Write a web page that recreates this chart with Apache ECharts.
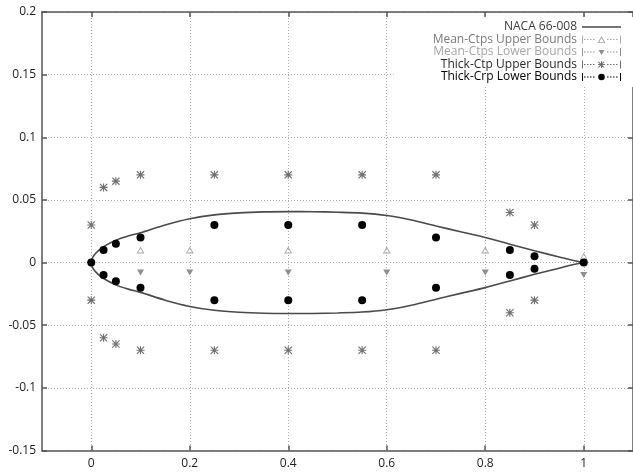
<!DOCTYPE html>
<html>
<head>
<meta charset="utf-8">
<script src="https://cdn.jsdelivr.net/npm/echarts@6/dist/echarts.min.js"></script>
<style>
html,body{margin:0;padding:0;background:#fff;}
#chart{width:633px;height:472px;}
</style>
</head>
<body>
<div id="chart"></div>
<script>
// ---------- data ----------
const xTicks = [0, 0.2, 0.4, 0.6, 0.8, 1];

const nacaX     = [0, 0.002, 0.005, 0.0125, 0.025, 0.05, 0.075, 0.1, 0.15, 0.2, 0.25, 0.3, 0.35, 0.4, 0.45, 0.5, 0.55, 0.6, 0.65, 0.7, 0.75, 0.8, 0.85, 0.9, 0.95, 0.975, 1];
const nacaUpper = [0, 0.0033, 0.0055, 0.0088, 0.0127, 0.0178, 0.0212, 0.0238, 0.0300, 0.0350, 0.0381, 0.0397, 0.0405, 0.0407, 0.0406, 0.0402, 0.0395, 0.0376, 0.0340, 0.0292, 0.0246, 0.0200, 0.0147, 0.0094, 0.0045, 0.0020, 0];
const nacaLower = [0, -0.0033, -0.0055, -0.0088, -0.0127, -0.0178, -0.0212, -0.0238, -0.0300, -0.0350, -0.0381, -0.0397, -0.0405, -0.0407, -0.0406, -0.0402, -0.0395, -0.0376, -0.0340, -0.0292, -0.0246, -0.0200, -0.0147, -0.0094, -0.0045, -0.0020, 0];

const meanUpperX = [0.1, 0.2, 0.4, 0.6, 0.8, 1];
const meanUpperY = [0.01, 0.01, 0.01, 0.01, 0.01, 0.005];
const meanLowerX = [0.1, 0.2, 0.4, 0.6, 0.8, 1];
const meanLowerY = [-0.008, -0.008, -0.008, -0.008, -0.008, -0.01];

const thickUpperX = [0, 0.025, 0.05, 0.1, 0.25, 0.4, 0.55, 0.7, 0.85, 0.9, 0, 0.025, 0.05, 0.1, 0.25, 0.4, 0.55, 0.7, 0.85, 0.9];
const thickUpperY = [0.03, 0.06, 0.065, 0.07, 0.07, 0.07, 0.07, 0.07, 0.04, 0.03, -0.03, -0.06, -0.065, -0.07, -0.07, -0.07, -0.07, -0.07, -0.04, -0.03];

const thickLowerX = [0, 0.025, 0.05, 0.1, 0.25, 0.4, 0.55, 0.7, 0.85, 0.9, 1, 0.025, 0.05, 0.1, 0.25, 0.4, 0.55, 0.7, 0.85, 0.9];
const thickLowerY = [0, 0.01, 0.015, 0.02, 0.03, 0.03, 0.03, 0.02, 0.01, 0.005, 0, -0.01, -0.015, -0.02, -0.03, -0.03, -0.03, -0.02, -0.01, -0.005];

const seriesNames = ['NACA 66-008', 'Mean-Ctps Upper Bounds', 'Mean-Ctps Lower Bounds', 'Thick-Ctp Upper Bounds', 'Thick-Crp Lower Bounds'];

// ---------- helpers ----------
function pairs(xs, ys) { return xs.map((x, i) => [x, ys[i]]); }
const FONT = '"Open Sans", "Noto Sans", sans-serif';

// symbol shapes (paths, 10x10 box)
const starPath = 'path://M4.3,0h1.4v10h-1.4z M0,4.3h10v1.4h-10z M1,0L10,9L9,10L0,1z M9,0L10,1L1,10L0,9z';
const triUpHollow = 'path://M5,0L10,9L0,9z M5,2.4L1.9,7.8L8.1,7.8z';
const triDown = 'path://M0,0L10,0L5,9z';

// legend icons: 39x8 samples
function dash(x0, x1) {
  let s = '';
  for (let x = x0; x + 1.5 <= x1; x += 3) s += 'M' + x + ',3.5h1.5v1h-1.5z ';
  return s;
}
function errIcon(sym) {
  return 'path://M0,0h1v8h-1z M38,0h1v8h-1z M0,3.5h1v1h-1z ' + dash(2, 15) + dash(25, 37.5) + sym;
}
const icoLine = 'path://M0,0h0.01v0.01h-0.01z M38.99,7.99h0.01v0.01h-0.01z M0,3.25h39v1.5h-39z';
const icoTri = errIcon('M19.5,0.5L23.5,7.5L15.5,7.5z M19.5,2.4L17.1,6.7L21.9,6.7z');
const icoTriDown = errIcon('M16.5,2L22.5,2L19.5,7z');
const icoStar = errIcon('M19,0.5h1v7h-1z M16,3.5h7v1h-7z M16.7,1L22.3,6.6L21.6,7.3L16,1.7z M21.6,1L22.3,1.7L16.7,7.3L16,6.6z');
const icoDot = errIcon('M19.5,0.7A3.3,3.3,0,1,1,19.49,0.7z');

// airfoil closed contour: upper from TE to LE, then lower LE to TE
const nacaLoop = [];
for (let i = nacaX.length - 1; i >= 0; i--) nacaLoop.push([nacaX[i], nacaUpper[i]]);
for (let i = 1; i < nacaX.length; i++) nacaLoop.push([nacaX[i], nacaLower[i]]);

const chart = echarts.init(document.getElementById('chart'), null, { renderer: 'canvas' });

const axisLineStyle = { color: '#555', width: 1.5 };
const gridLineStyle = { color: '#aaa', width: 1, type: [1, 2] };

const option = {
  backgroundColor: '#fff',
  animation: false,
  grid: { left: 42, top: 12, right: -3, bottom: 21.5, containLabel: false },
  legend: {
    orient: 'vertical',
    align: 'right',
    right: 0,
    top: 17,
    itemWidth: 39,
    itemHeight: 8,
    itemGap: 0.5,
    padding: [4, 12, 4, 39],
    backgroundColor: '#fff',
    selectedMode: false,
    textStyle: { fontFamily: FONT, fontSize: 12, lineHeight: 12, color: '#222' },
    data: [
      { name: seriesNames[0], icon: icoLine, itemStyle: { color: '#4a4a4a' }, textStyle: { color: '#3a3a3a' } },
      { name: seriesNames[1], icon: icoTri, textStyle: { color: '#7a7a7a' } },
      { name: seriesNames[2], icon: icoTriDown, textStyle: { color: '#a5a5a5' } },
      { name: seriesNames[3], icon: icoStar, textStyle: { color: '#2a2a2a' } },
      { name: seriesNames[4], icon: icoDot, textStyle: { color: '#000' } }
    ]
  },
  xAxis: [
    {
      type: 'value', position: 'bottom', min: -0.1, max: 1.1,
      axisLine: { show: true, onZero: false, lineStyle: axisLineStyle },
      axisTick: { show: true, inside: true, length: 5, customValues: xTicks, lineStyle: axisLineStyle },
      axisLabel: { customValues: xTicks, margin: 7, color: '#222', fontFamily: FONT, fontSize: 12 },
      splitLine: { show: true, lineStyle: gridLineStyle }
    },
    {
      type: 'value', position: 'top', min: -0.1, max: 1.1,
      axisLine: { show: true, onZero: false, lineStyle: axisLineStyle },
      axisTick: { show: true, inside: true, length: 5, customValues: xTicks, lineStyle: axisLineStyle },
      axisLabel: { show: false },
      splitLine: { show: false }
    }
  ],
  yAxis: [
    {
      type: 'value', position: 'left', min: -0.15, max: 0.2, interval: 0.05,
      axisLine: { show: true, onZero: false, lineStyle: axisLineStyle },
      axisTick: { show: true, inside: true, length: 5, lineStyle: axisLineStyle },
      axisLabel: { margin: 6, color: '#222', fontFamily: FONT, fontSize: 12 },
      splitLine: { show: true, lineStyle: gridLineStyle }
    },
    {
      type: 'value', position: 'right', min: -0.15, max: 0.2, interval: 0.05,
      axisLine: { show: true, onZero: false, lineStyle: axisLineStyle },
      axisTick: { show: true, inside: true, length: 5, lineStyle: axisLineStyle },
      axisLabel: { show: false },
      splitLine: { show: false }
    }
  ],
  series: [
    {
      name: seriesNames[0], type: 'line', xAxisIndex: 0, yAxisIndex: 0,
      data: nacaLoop, symbol: 'none', smooth: 0.3,
      lineStyle: { color: '#4a4a4a', width: 1.6 },
      itemStyle: { color: '#4a4a4a' },
      z: 2
    },
    {
      name: seriesNames[1], type: 'scatter', data: pairs(meanUpperX, meanUpperY),
      symbol: triUpHollow, symbolSize: [8, 7], itemStyle: { color: '#a8a8a8', opacity: 1 }, z: 3
    },
    {
      name: seriesNames[2], type: 'scatter', data: pairs(meanLowerX, meanLowerY),
      symbol: triDown, symbolSize: [7, 6], itemStyle: { color: '#8e8e8e', opacity: 1 }, z: 3
    },
    {
      name: seriesNames[3], type: 'scatter', data: pairs(thickUpperX, thickUpperY),
      symbol: starPath, symbolSize: 8, itemStyle: { color: '#707070', opacity: 1 }, z: 4
    },
    {
      name: seriesNames[4], type: 'scatter', data: pairs(thickLowerX, thickLowerY),
      symbol: 'circle', symbolSize: 8, itemStyle: { color: '#000', opacity: 1 }, z: 5
    }
  ]
};
chart.setOption(option);
</script>
</body>
</html>
